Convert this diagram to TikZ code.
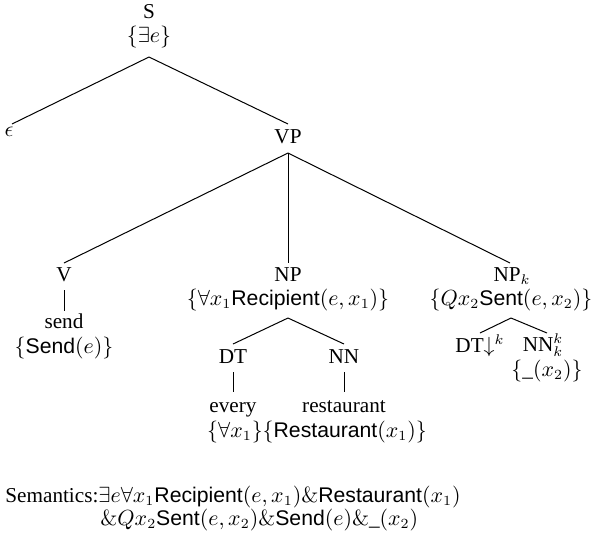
\documentclass[tikz,border=0pt]{standalone}
\usepackage[no-math]{fontspec}
\setmainfont{Liberation Serif}
\setsansfont{Liberation Sans}
\begin{document}
\begin{tikzpicture}[x=0.5pt,y=-0.5pt,
  lab/.style={inner sep=0pt, anchor=base, font=\fontsize{10.6}{12.6}\selectfont},
  branch/.style={line width=0.5pt}]
\useasboundingbox (0,0) rectangle (595,538);

% category labels and their semantics
\node[lab] (S)    at (149,18.5)  {S};
\node[lab] (Ssem) at (149,42)    {$\{\exists e\}$};
\node[lab] (eps)  at (9,136)     {$\epsilon$};
\node[lab] (VP)   at (288,143.5) {VP};

\node[lab] (V)     at (64,281.5)  {V};
\node[lab] (send)  at (64,328.5)  {send};
\node[lab] (sendsem) at (64,353)  {$\{\textsf{Send}(e)\}$};

\node[lab] (NP)    at (288,281.5) {NP};
\node[lab] (NPsem) at (288,305.5) {$\{\forall x_1\textsf{Recipient}(e,x_1)\}$};
\node[lab] (DT)    at (233,363.5) {DT};
\node[lab] (NN)    at (344,363.5) {NN};
\node[lab] (every) at (233,412)   {every};
\node[lab] (rest)  at (344,412)   {restaurant};
\node[lab] (lexsem) at (317,437)  {$\{\forall x_1\}\{\textsf{Restaurant}(x_1)\}$};

\node[lab] (NPk)    at (512,281.5) {NP$_k$};
\node[lab] (NPksem) at (511,305.5) {$\{Qx_2\textsf{Sent}(e,x_2)\}$};
\node[lab] (DTk)    at (480,352)   {DT$\downarrow^k$};
\node[lab] (NNk)    at (543,351)   {NN$^k_k$};
\node[lab] (NNksem) at (547,376)   {$\{$\_$(x_2)\}$};

% tree branches
\draw[branch] ([yshift=-7.5pt]Ssem.base) -- ([shift={(1.5pt,6pt)}]eps.base);
\draw[branch] ([yshift=-7.5pt]Ssem.base) -- ([yshift=9.75pt]VP.base);

\draw[branch] ([yshift=-4.75pt]VP.base) -- ([yshift=9.25pt]V.base);
\draw[branch] ([yshift=-4.75pt]VP.base) -- ([yshift=9.25pt]NP.base);
\draw[branch] ([yshift=-4.75pt]VP.base) -- ([shift={(-1pt,9.25pt)}]NPk.base);

\draw[branch] ([yshift=-4.25pt]V.base) -- ([yshift=9pt]send.base);

\draw[branch] ([yshift=-6.25pt]NPsem.base) -- ([yshift=9.75pt]DT.base);
\draw[branch] ([yshift=-6.25pt]NPsem.base) -- ([yshift=9.75pt]NN.base);
\draw[branch] ([yshift=-4.25pt]DT.base) -- ([yshift=10pt]every.base);
\draw[branch] ([yshift=-4.25pt]NN.base) -- ([yshift=10pt]rest.base);

\draw[branch] ([yshift=-6.25pt]NPksem.base) -- ([yshift=9.5pt]DTk.base);
\draw[branch] ([yshift=-6.25pt]NPksem.base) -- ([shift={(2pt,9pt)}]NNk.base);

% combined semantics
\node[lab, anchor=base west] (semA) at (5,502)
  {Semantics:$\exists e\forall x_1\textsf{Recipient}(e,x_1)\&\textsf{Restaurant}(x_1)$};
\node[lab, anchor=base west] (semB) at (100,525)
  {$\&Qx_2\textsf{Sent}(e,x_2)\&\textsf{Send}(e)\&$\_$(x_2)$};
\end{tikzpicture}
\end{document}
